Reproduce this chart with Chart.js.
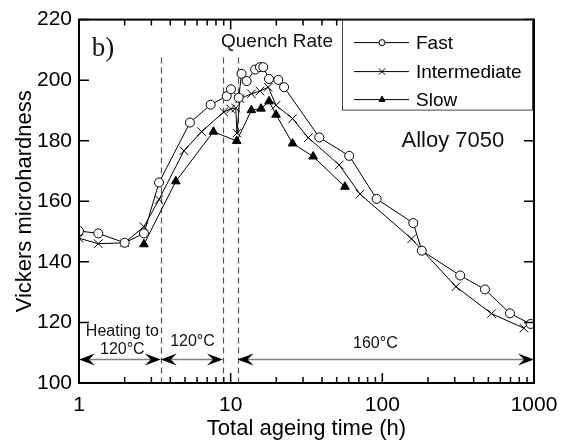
<!DOCTYPE html>
<html>
<head>
<meta charset="utf-8">
<script src="https://cdn.jsdelivr.net/npm/chart.js@4.4.1/dist/chart.umd.min.js"></script>
<style>
  html, body { margin: 0; padding: 0; background: #fff; }
</style>
</head>
<body>
<canvas id="chart" width="569" height="443"></canvas>
<script>
// hardness vs ageing time
const fastTime = [1, 1.34, 2, 2.68, 3.37, 5.39, 7.38, 9.41, 10.05, 11.3, 11.8, 12.75, 14.5, 15.6, 16.4, 17.9, 20.6, 22.5, 38.4, 60.5, 91.7, 160, 182, 326, 475, 694, 950];
const fastHv = [150.2, 149.4, 146.3, 149.4, 166.2, 186, 191.9, 194.7, 197, 194.2, 202.1, 199.7, 203.5, 204.3, 204.3, 200.4, 200.1, 197.7, 181.1, 175, 160.8, 152.8, 143.7, 135.5, 130.9, 123, 119.5];

const interTime = [1, 1.34, 2, 2.68, 3.37, 4.92, 6.44, 9.0, 10.0, 10.8, 11.0, 11.5, 13.7, 15.6, 17.7, 19.9, 25.6, 32.5, 52, 71.2, 156, 306, 525, 858];
const interHv = [147.8, 146, 146.3, 151.6, 160.6, 176.7, 183, 189.5, 190.5, 190.8, 182.5, 193.9, 195.5, 196.4, 197.7, 191.7, 187.3, 181, 172, 162.4, 147.6, 131.8, 122.9, 118.1];

const slowTime = [2.68, 4.35, 7.7, 10.96, 13.7, 15.85, 17.9, 19.9, 25.6, 35, 56.7];
const slowHv = [145.8, 166.6, 183, 179.9, 190.1, 190.6, 193, 188.6, 179.1, 174.8, 164.8];

const seriesNames = ["Fast", "Intermediate", "Slow"];
const xTickValues = [1, 10, 100, 1000];
const yTickValues = [100, 120, 140, 160, 180, 200, 220];

// stage boundaries (h): start, end of heating, end of 120C, start of 160C, end
const stageBounds = [1, 3.46, 8.9, 11.1, 1000];

const pts = (xs, ys) => xs.map((x, i) => ({ x: x, y: ys[i] }));

const overlay = {
  id: 'overlay',
  beforeDatasetsDraw(chart) {
    const { ctx, chartArea } = chart;
    const xs = chart.scales.x, ys = chart.scales.y;
    ctx.save();

    // dashed stage lines
    ctx.strokeStyle = '#555';
    ctx.lineWidth = 1.2;
    ctx.setLineDash([6, 4]);
    [stageBounds[1], stageBounds[2], stageBounds[3]].forEach(t => {
      const px = Math.round(xs.getPixelForValue(t)) + 0.5;
      ctx.beginPath();
      ctx.moveTo(px, ys.getPixelForValue(207.5));
      ctx.lineTo(px, chartArea.bottom);
      ctx.stroke();
    });
    ctx.setLineDash([]);

    // double arrows
    const ay = ys.getPixelForValue(107.8);
    const head = (x, dir) => {
      ctx.beginPath();
      ctx.moveTo(x, ay);
      ctx.lineTo(x + dir * 16, ay - 6);
      ctx.lineTo(x + dir * 10, ay);
      ctx.lineTo(x + dir * 16, ay + 6);
      ctx.closePath();
      ctx.fill();
    };
    const arrow = (t1, t2) => {
      const x1 = xs.getPixelForValue(t1), x2 = xs.getPixelForValue(t2);
      ctx.strokeStyle = '#808080';
      ctx.lineWidth = 1.5;
      ctx.beginPath();
      ctx.moveTo(x1 + 4, ay);
      ctx.lineTo(x2 - 4, ay);
      ctx.stroke();
      ctx.fillStyle = '#000';
      head(x1, 1);
      head(x2, -1);
    };
    arrow(stageBounds[0], stageBounds[1]);
    arrow(stageBounds[1], stageBounds[2]);
    arrow(stageBounds[3], stageBounds[4]);

    // stage labels
    ctx.fillStyle = '#111';
    ctx.textAlign = 'center';
    ctx.textBaseline = 'middle';
    ctx.font = '16px "Liberation Sans", Arial, sans-serif';
    ctx.fillText('Heating to', xs.getPixelForValue(1.93), ys.getPixelForValue(117.1));
    ctx.fillText('120°C', xs.getPixelForValue(1.93), ys.getPixelForValue(111.0));
    ctx.fillText('120°C', xs.getPixelForValue(5.6), ys.getPixelForValue(113.8));
    ctx.fillText('160°C', xs.getPixelForValue(90), ys.getPixelForValue(113.1));

    // annotations
    ctx.font = '19px "Liberation Sans", Arial, sans-serif';
    ctx.fillText('Quench Rate', xs.getPixelForValue(20.2), ys.getPixelForValue(212.6));
    ctx.font = '22px "Liberation Sans", Arial, sans-serif';
    ctx.fillText('Alloy 7050', xs.getPixelForValue(292), ys.getPixelForValue(180));
    ctx.font = '27px "Liberation Serif", "Times New Roman", serif';
    ctx.fillText('b)', xs.getPixelForValue(1.44), ys.getPixelForValue(210.2));
    ctx.restore();
  },
  afterDraw(chart) {
    const { ctx, chartArea: a } = chart;
    const xs = chart.scales.x, ys = chart.scales.y;
    ctx.save();
    ctx.strokeStyle = '#000';
    ctx.lineWidth = 2;
    ctx.strokeRect(a.left, a.top, a.right - a.left, a.bottom - a.top);

    // inward ticks on all four sides
    ctx.lineWidth = 1.5;
    ctx.beginPath();
    for (let d = 1; d < 1000; d *= 10) {
      for (let m = 1; m < 10; m++) {
        const v = d * m;
        const px = xs.getPixelForValue(v);
        const len = m === 1 ? 10 : 6;
        ctx.moveTo(px, a.bottom); ctx.lineTo(px, a.bottom - len);
        ctx.moveTo(px, a.top); ctx.lineTo(px, a.top + len);
      }
    }
    yTickValues.forEach(v => {
      const py = ys.getPixelForValue(v);
      ctx.moveTo(a.left, py); ctx.lineTo(a.left + 10, py);
      ctx.moveTo(a.right, py); ctx.lineTo(a.right - 10, py);
    });
    ctx.stroke();

    // legend box
    const bx = a.right - 192, by = a.top, bw = 190, bh = 90;
    ctx.fillStyle = '#fff';
    ctx.fillRect(bx, by + 1, bw, bh - 1);
    ctx.strokeStyle = '#444';
    ctx.lineWidth = 1;
    ctx.strokeRect(bx + 0.5, by + 0.5, bw, bh);
    ctx.font = '19px "Liberation Sans", Arial, sans-serif';
    ctx.textAlign = 'left';
    ctx.textBaseline = 'middle';
    const rows = [23, 52, 80];
    chart.data.datasets.forEach((ds, i) => {
      const ry = by + rows[i];
      ctx.strokeStyle = '#000';
      ctx.lineWidth = 1;
      ctx.beginPath();
      ctx.moveTo(bx + 12, ry); ctx.lineTo(bx + 67, ry);
      ctx.stroke();
      ctx.fillStyle = ds.pointBackgroundColor;
      Chart.helpers.drawPoint(ctx, { pointStyle: ds.pointStyle, radius: ds.pointRadius - 1.5, rotation: 0, borderWidth: 1 }, bx + 40, ry);
      ctx.fillStyle = '#000';
      ctx.fillText(ds.label, bx + 74, ry + 1);
    });
    ctx.restore();
  }
};

const lineStyle = { borderColor: '#000', borderWidth: 1, tension: 0, pointBorderColor: '#000', pointBorderWidth: 1 };

new Chart(document.getElementById('chart'), {
  type: 'line',
  data: {
    datasets: [
      Object.assign({ label: seriesNames[0], data: pts(fastTime, fastHv), pointStyle: 'circle', pointRadius: 4.5, pointBackgroundColor: '#fff' }, lineStyle),
      Object.assign({ label: seriesNames[1], data: pts(interTime, interHv), pointStyle: 'crossRot', pointRadius: 6, pointBackgroundColor: '#000' }, lineStyle),
      Object.assign({ label: seriesNames[2], data: pts(slowTime, slowHv), pointStyle: 'triangle', pointRadius: 5, pointBackgroundColor: '#000' }, lineStyle)
    ]
  },
  options: {
    responsive: false,
    animation: false,
    layout: { padding: { top: 17, right: 35, left: 0, bottom: 0 } },
    plugins: { legend: { display: false }, tooltip: { enabled: false } },
    scales: {
      x: {
        type: 'logarithmic',
        min: 1, max: 1000,
        grid: { display: false, drawTicks: false },
        border: { display: false },
        afterBuildTicks: s => { s.ticks = xTickValues.map(v => ({ value: v })); },
        afterFit: s => { s.height = 60; },
        ticks: {
          autoSkip: false, maxRotation: 0, padding: 10, color: '#000',
          font: { family: '"Liberation Sans", Arial, sans-serif', size: 21 },
          callback: v => String(v)
        },
        title: {
          display: true, text: 'Total ageing time (h)', color: '#000',
          font: { family: '"Liberation Sans", Arial, sans-serif', size: 22 },
          padding: { top: 0, bottom: 1 }
        }
      },
      y: {
        min: 100, max: 220,
        grid: { display: false, drawTicks: false },
        border: { display: false },
        afterBuildTicks: s => { s.ticks = yTickValues.map(v => ({ value: v })); },
        afterFit: s => { s.width = 79; },
        ticks: {
          padding: 7, color: '#000',
          font: { family: '"Liberation Sans", Arial, sans-serif', size: 21 }
        },
        title: {
          display: true, text: 'Vickers microhardness', color: '#000',
          font: { family: '"Liberation Sans", Arial, sans-serif', size: 22 },
          padding: { top: 12, bottom: 0 }
        }
      }
    }
  },
  plugins: [overlay]
});
</script>
</body>
</html>
